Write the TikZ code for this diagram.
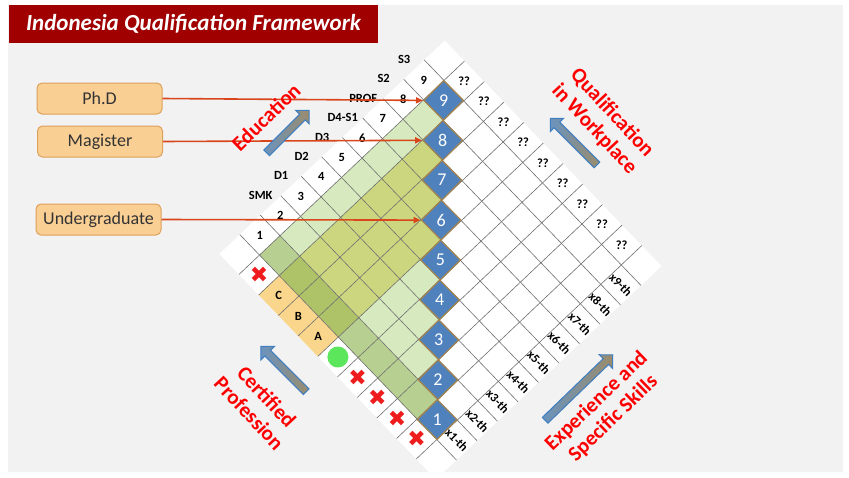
\documentclass[tikz,border=0pt]{standalone}
\usepackage{fontspec}
\setmainfont{Carlito}
\newfontfamily\symfont{DejaVu Sans}
\usetikzlibrary{shapes.geometric,shapes.arrows,arrows.meta}

\definecolor{slidegray}{HTML}{F2F2F2}
\definecolor{titlered}{HTML}{A00000}
\definecolor{boxfill}{HTML}{F9CF94}
\definecolor{boxline}{HTML}{DDA15A}
\definecolor{linkred}{HTML}{D9461B}
\definecolor{lvlblue}{HTML}{4F81BD}
\definecolor{lvlrim}{HTML}{A3834E}
\definecolor{palegreen}{HTML}{D7EABF}
\definecolor{midgreen}{HTML}{B7CF90}
\definecolor{cellolive}{HTML}{CBD67F}
\definecolor{celloliveDk}{HTML}{AEC267}
\definecolor{certfill}{HTML}{FAD68C}
\definecolor{okgreen}{HTML}{5CE65C}
\definecolor{crossred}{HTML}{EE1C1C}
\definecolor{gridgray}{HTML}{6F6F6F}
\definecolor{arrowrim}{HTML}{3F7EC0}
\definecolor{arrowtail}{HTML}{6B93BD}
\definecolor{arrowhead}{HTML}{9A8C6C}
\definecolor{labelred}{HTML}{FF0000}

\begin{document}
\begin{tikzpicture}[x=1pt,y=-1pt,
	lvl/.style={diamond, fill=lvlblue, draw=lvlrim, line width=1.2pt, minimum width=40pt, minimum height=40pt, inner sep=0pt, text=white, font=\fontsize{18}{18}\selectfont},
	srcbox/.style={rounded corners=5pt, fill=boxfill, draw=boxline, line width=1pt, minimum width=125pt, minimum height=31pt, text=black!80, font=\fontsize{18}{18}\selectfont},
	link/.style={linkred, line width=1.6pt, -{Triangle[length=7pt,width=6pt]}},
	gridline/.style={gridgray, line width=0.6pt},
	numtxt/.style={font=\bfseries\fontsize{12.5}{12.5}\selectfont},
	xtxt/.style={font=\bfseries\fontsize{12.5}{12.5}\selectfont, rotate=-46},
	redlbl/.style={text=labelred, font=\bfseries\fontsize{21}{24}\selectfont, align=center},
	blockarrow/.style={single arrow, draw=arrowrim, line width=1pt, left color=arrowtail, right color=arrowhead, inner sep=3.5pt, single arrow head extend=5.5pt, minimum width=19pt},
	nogo/.style={text=crossred, font=\symfont\fontsize{22}{22}\selectfont}]
	\useasboundingbox (0,0) rectangle (849,477);
	\fill[slidegray] (8,5) rectangle (843,472);
	\node[fill=titlered, text=white, minimum width=369pt, minimum height=38pt, font=\bfseries\itshape\fontsize{23}{23}\selectfont] (title) at (193.5,24) {Indonesia Qualification Framework};

	% the framework grid, cell (i,j) sits at (j,i)
	\begin{scope}[x=1pt, y=1pt, cm={20.5,19.4,-19.7,20.5,(436.4pt,-459.5pt)}]
		\fill[white] (-0.5,-0.5) rectangle (10.5,10.5);
		\foreach \i in {2,...,5,9}
			\fill[midgreen] (0.5,\i-0.5) rectangle ++(1,1);
		\foreach \i in {6,7,8}
			\fill[celloliveDk] (0.5,\i-0.5) rectangle ++(1,1);
		\foreach \j in {2,...,8}
			\fill[palegreen] (\j-0.5,8.5) rectangle ++(1,1);
		\foreach \i in {3,...,8} {
			\pgfmathtruncatemacro\jtop{\i-1}
			\foreach \j in {2,...,\jtop} {
				\ifnum\i>5 \fill[cellolive] (\j-0.5,\i-0.5) rectangle ++(1,1);
				\else \fill[palegreen] (\j-0.5,\i-0.5) rectangle ++(1,1); \fi
			}
		}
		\foreach \i in {6,7,8}
			\fill[certfill] (-0.5,\i-0.5) rectangle ++(1,1);
		\foreach \k in {0.5,1.5,...,9.5} {
			\draw[gridline] (\k,-0.5) -- (\k,10.5);
			\draw[gridline] (-0.5,\k) -- (10.5,\k);
		}

		\foreach \k in {1,...,9}
			\node[lvl] (lv\k) at (\k,\k) {\k};
		\foreach \j in {1,...,9}
			\node[numtxt] (num\j) at (\j,10) {\j};
		\foreach \j/\t in {2/SMK,3/D1,4/D2,5/D3,6/D4-S1,7/PROF,8/S2,9/S3}
			\node[numtxt] (edu\j) at (\j,11) {\t};
		\foreach \i in {1,...,9}
			\node[numtxt] (wp\i) at (10,\i) {??};
		\foreach \j in {1,...,9}
			\node[xtxt] (exp\j) at (\j,0) {x\j-th};
		\foreach \i in {1,...,4,9}
			\node[nogo] (no\i) at (0,\i) {✖};
		\node[circle, fill=okgreen, minimum size=21pt, inner sep=0pt] (ok) at (0,5) {};
		\foreach \i/\t in {6/A,7/B,8/C}
			\node[numtxt] (cert\t) at (0,\i) {\t};
	\end{scope}

	\node[srcbox] (phd) at (99.5,98.5) {Ph.D};
	\node[srcbox] (mag) at (100,141.5) {Magister};
	\node[srcbox] (ugrad) at (98.5,219.5) {Undergraduate};
	\draw[link] (phd.east) -- (lv9.west);
	\draw[link] (mag.east) -- (lv8.west);
	\draw[link] (ugrad.east) -- (lv6.west);

	\node[blockarrow, minimum height=60pt, rotate=45] (eduarrow) at (286.5,133) {};
	\node[blockarrow, minimum height=66pt, rotate=135] (wparrow) at (575,143) {};
	\node[blockarrow, minimum height=64pt, rotate=135] (certarrow) at (285,370.5) {};
	\node[blockarrow, minimum height=94pt, rotate=44] (exparrow) at (577.5,389) {};

	\node[redlbl, rotate=44] (edulabel) at (266,117) {Education};
	\node[redlbl, rotate=-47] (wplabel) at (603,121) {Qualification\\in Workplace};
	\node[redlbl, rotate=-47] (certlabel) at (258,405) {Certified\\Profession};
	\node[redlbl, rotate=44] (explabel) at (605,410) {Experience and\\Specific Skills};
\end{tikzpicture}
\end{document}
